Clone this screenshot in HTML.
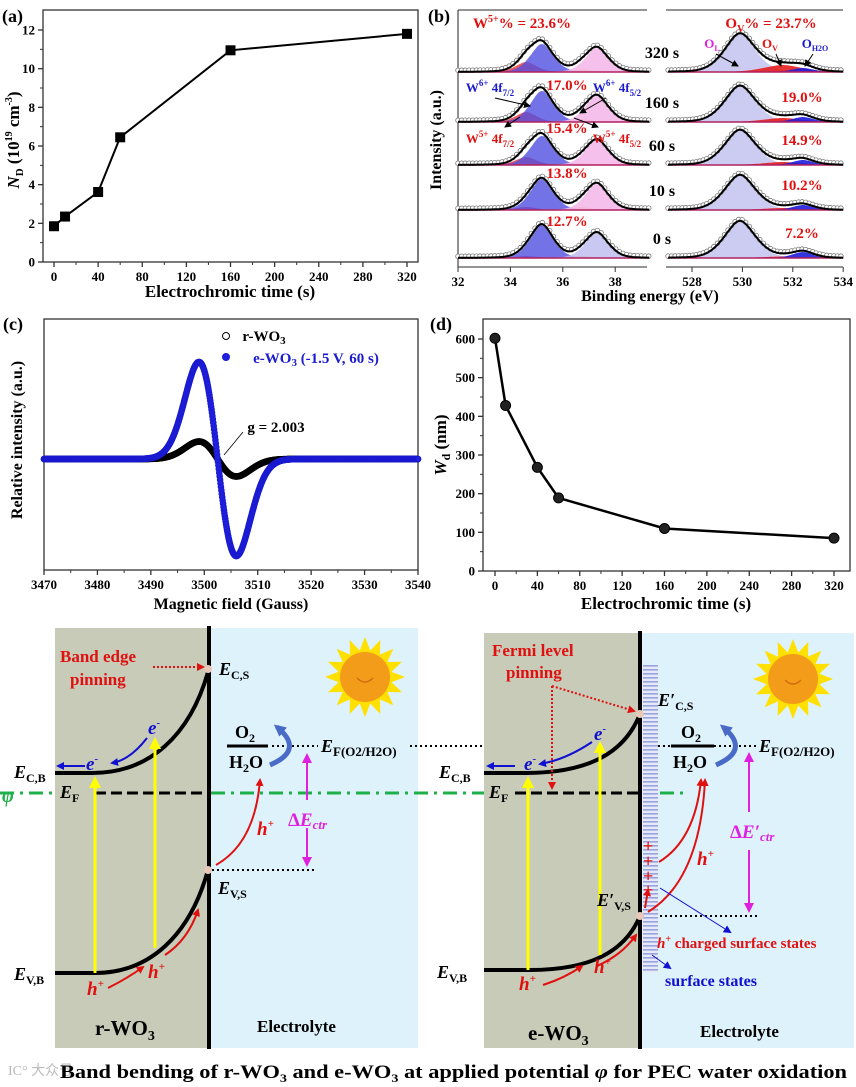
<!DOCTYPE html>
<html><head><meta charset="utf-8"><style>
html,body{margin:0;padding:0;background:#fff;}
svg{display:block;font-family:"Liberation Serif",serif;font-weight:bold;}
</style></head><body>
<svg id="fig" xmlns="http://www.w3.org/2000/svg" width="856" height="1087" viewBox="0 0 856 1087">
<defs>
<marker id="mRed" markerWidth="8" markerHeight="8" refX="6" refY="4" orient="auto" markerUnits="userSpaceOnUse"><path d="M0,0 L8,4 L0,8 z" fill="#e01010"/></marker>
<marker id="mBlue" markerWidth="8" markerHeight="8" refX="6" refY="4" orient="auto" markerUnits="userSpaceOnUse"><path d="M0,0 L8,4 L0,8 z" fill="#1010d0"/></marker>
<marker id="mMag" markerWidth="10" markerHeight="10" refX="8" refY="5" orient="auto" markerUnits="userSpaceOnUse"><path d="M0,0 L10,5 L0,10 z" fill="#e020e0"/></marker>
<marker id="mYel" markerWidth="12" markerHeight="12" refX="9" refY="6" orient="auto" markerUnits="userSpaceOnUse"><path d="M0,0 L12,6 L0,12 z" fill="#ffff00"/></marker>
<marker id="mBlk" markerWidth="7" markerHeight="7" refX="6" refY="3.5" orient="auto" markerUnits="userSpaceOnUse"><path d="M0,0 L7,3.5 L0,7 z" fill="#000"/></marker>
<marker id="mSB" markerWidth="12" markerHeight="12" refX="8" refY="6" orient="auto" markerUnits="userSpaceOnUse"><path d="M0,0 L12,6 L0,12 z" fill="#4a6ac8"/></marker>
<pattern id="ss" width="14" height="4" patternUnits="userSpaceOnUse"><rect width="14" height="4" fill="#e6e9f7"/><rect y="1" width="14" height="1.6" fill="#9aa3dd"/></pattern>
</defs>

<g>
<rect x="55" y="628" width="154" height="420" fill="#c8cbb8"/>
<rect x="210" y="628" width="208" height="420" fill="#ddf2fb"/>
</g>
<g>
<rect x="484" y="633" width="156" height="415" fill="#c8cbb8"/>
<rect x="641" y="633" width="213" height="415" fill="#ddf2fb"/>
<rect x="643" y="665" width="15" height="308" fill="url(#ss)"/>
</g>
<g id="diagram">
<line x1="0" y1="793" x2="55" y2="793" stroke="#1fb04a" stroke-width="3" stroke-dasharray="14,6,3,6"/>
<line x1="211" y1="793" x2="484" y2="793" stroke="#1fb04a" stroke-width="3" stroke-dasharray="14,6,3,6"/>
<line x1="660" y1="793" x2="688" y2="793" stroke="#1fb04a" stroke-width="3" stroke-dasharray="14,6,3,6"/>
<line x1="95" y1="793" x2="208" y2="793" stroke="#000" stroke-width="3" stroke-dasharray="11,5"/>
<line x1="515" y1="793" x2="640" y2="793" stroke="#000" stroke-width="3" stroke-dasharray="11,5"/>
<path d="M55,773 L92,773 C150,773 190,735 208,672" fill="none" stroke="#000" stroke-width="4"/>
<path d="M55,973 L95,973 C150,973 190,935 208,870" fill="none" stroke="#000" stroke-width="4"/>
<path d="M484,773 L525,773 C590,773 625,752 640,714" fill="none" stroke="#000" stroke-width="4"/>
<path d="M484,970 L530,970 C590,970 625,952 640,916" fill="none" stroke="#000" stroke-width="4"/>
<line x1="209" y1="626" x2="209" y2="1049" stroke="#000" stroke-width="4"/>
<line x1="640" y1="631" x2="640" y2="1049" stroke="#000" stroke-width="4"/>
<circle cx="208" cy="669" r="4" fill="#e8c8b8"/>
<circle cx="208" cy="870" r="4" fill="#e8c8b8"/>
<circle cx="640" cy="714" r="4" fill="#e8c8b8"/>
<circle cx="640" cy="916" r="4" fill="#e8c8b8"/>
<line x1="272" y1="746" x2="318" y2="746" stroke="#000" stroke-width="2" stroke-dasharray="2,3"/>
<line x1="410" y1="746" x2="482" y2="746" stroke="#000" stroke-width="2" stroke-dasharray="2,3"/>
<line x1="658" y1="746" x2="671" y2="746" stroke="#000" stroke-width="2" stroke-dasharray="2,3"/>
<line x1="714" y1="746" x2="758" y2="746" stroke="#000" stroke-width="2" stroke-dasharray="2,3"/>
<line x1="212" y1="870" x2="314" y2="870" stroke="#000" stroke-width="2" stroke-dasharray="2,3"/>
<line x1="660" y1="916" x2="757" y2="916" stroke="#000" stroke-width="2" stroke-dasharray="2,3"/>
<line x1="227" y1="746" x2="268" y2="746" stroke="#000" stroke-width="3"/>
<line x1="671" y1="746" x2="714" y2="746" stroke="#000" stroke-width="3"/>
<line x1="95" y1="973" x2="95" y2="779" stroke="#ffff00" stroke-width="3" marker-end="url(#mYel)"/>
<line x1="155" y1="948" x2="155" y2="740" stroke="#ffff00" stroke-width="3" marker-end="url(#mYel)"/>
<line x1="528" y1="970" x2="528" y2="779" stroke="#ffff00" stroke-width="3" marker-end="url(#mYel)"/>
<line x1="600" y1="955" x2="600" y2="744" stroke="#ffff00" stroke-width="3" marker-end="url(#mYel)"/>
<path d="M147,738 Q130,760 112,763" fill="none" stroke="#1010d0" stroke-width="2" marker-end="url(#mBlue)"/>
<path d="M85,766 L58,766" fill="none" stroke="#1010d0" stroke-width="2" marker-end="url(#mBlue)"/>
<path d="M592,742 Q565,760 540,764" fill="none" stroke="#1010d0" stroke-width="2" marker-end="url(#mBlue)"/>
<path d="M515,766 L488,766" fill="none" stroke="#1010d0" stroke-width="2" marker-end="url(#mBlue)"/>
<path d="M108,988 Q128,978 143,967" fill="none" stroke="#e01010" stroke-width="2" marker-end="url(#mRed)"/>
<path d="M165,955 Q188,940 198,910" fill="none" stroke="#e01010" stroke-width="2" marker-end="url(#mRed)"/>
<path d="M216,865 Q255,843 260,780" fill="none" stroke="#e01010" stroke-width="2" marker-end="url(#mRed)"/>
<path d="M543,985 Q565,978 582,966" fill="none" stroke="#e01010" stroke-width="2" marker-end="url(#mRed)"/>
<path d="M597,966 Q622,955 636,935" fill="none" stroke="#e01010" stroke-width="2" marker-end="url(#mRed)"/>
<path d="M645,908 L648,890" fill="none" stroke="#e01010" stroke-width="2" marker-end="url(#mRed)"/>
<path d="M659,862 Q695,840 701,780" fill="none" stroke="#e01010" stroke-width="2" marker-end="url(#mRed)"/>
<path d="M648,912 Q700,880 705,780" fill="none" stroke="#e01010" stroke-width="2" marker-end="url(#mRed)"/>
<path d="M270,765 Q305,750 277,727" fill="none" stroke="#4a6ac8" stroke-width="5" marker-end="url(#mSB)"/>
<path d="M716,765 Q751,750 723,727" fill="none" stroke="#4a6ac8" stroke-width="5" marker-end="url(#mSB)"/>
<line x1="307" y1="800" x2="307" y2="755" stroke="#e020e0" stroke-width="2" marker-end="url(#mMag)"/>
<line x1="307" y1="828" x2="307" y2="865" stroke="#e020e0" stroke-width="2" marker-end="url(#mMag)"/>
<line x1="749" y1="812" x2="749" y2="754" stroke="#e020e0" stroke-width="2" marker-end="url(#mMag)"/>
<line x1="749" y1="850" x2="749" y2="911" stroke="#e020e0" stroke-width="2" marker-end="url(#mMag)"/>
<line x1="153" y1="667" x2="203" y2="667" stroke="#e01010" stroke-width="2" stroke-dasharray="2,2" marker-end="url(#mRed)"/>
<line x1="552" y1="686" x2="634" y2="711" stroke="#e01010" stroke-width="2" stroke-dasharray="2,2" marker-end="url(#mRed)"/>
<line x1="552" y1="686" x2="552" y2="788" stroke="#e01010" stroke-width="2" stroke-dasharray="2,2" marker-end="url(#mRed)"/>
<line x1="660" y1="888" x2="730" y2="932" stroke="#1010d0" stroke-width="1" marker-end="url(#mBlue)"/>
<line x1="652" y1="955" x2="670" y2="968" stroke="#1010d0" stroke-width="1" marker-end="url(#mBlue)"/>
<g fill="#e01010" font-size="18">
<text x="643" y="852">+</text><text x="643" y="867">+</text><text x="643" y="882">+</text><text x="643" y="896">+</text>
</g>
</g>
<g font-size="18">
<text x="60" y="662" fill="#e01010" font-size="17">Band edge</text>
<text x="70" y="685" fill="#e01010" font-size="17">pinning</text>
<text x="219" y="675" font-style="italic">E<tspan font-size="12" font-style="normal" dy="4">C,S</tspan></text>
<text x="14" y="778" font-style="italic">E<tspan font-size="12" font-style="normal" dy="4">C,B</tspan></text>
<text x="60" y="798" font-style="italic">E<tspan font-size="12" font-style="normal" dy="4">F</tspan></text>
<text x="2" y="802" fill="#1fb04a" font-style="italic" font-size="20">φ</text>
<text x="14" y="980" font-style="italic">E<tspan font-size="12" font-style="normal" dy="4">V,B</tspan></text>
<text x="218" y="894" font-style="italic">E<tspan font-size="12" font-style="normal" dy="4">V,S</tspan></text>
<text x="86" y="770" fill="#1010d0" font-style="italic" font-size="19">e<tspan font-size="11" dy="-8">-</tspan></text>
<text x="148" y="734" fill="#1010d0" font-style="italic" font-size="19">e<tspan font-size="11" dy="-8">-</tspan></text>
<text x="87" y="995" fill="#e01010" font-style="italic" font-size="19">h<tspan font-size="11" dy="-8">+</tspan></text>
<text x="148" y="978" fill="#e01010" font-style="italic" font-size="19">h<tspan font-size="11" dy="-8">+</tspan></text>
<text x="257" y="835" fill="#e01010" font-style="italic" font-size="19">h<tspan font-size="11" dy="-8">+</tspan></text>
<text x="235" y="738" font-size="18">O<tspan font-size="12" dy="4">2</tspan></text>
<text x="229" y="768" font-size="18">H<tspan font-size="12" dy="4">2</tspan><tspan dy="-4">O</tspan></text>
<text x="321" y="752" font-style="italic">E<tspan font-size="13" font-style="normal" dy="4">F(O2/H2O)</tspan></text>
<text x="288" y="826" fill="#e020e0" font-size="19">Δ<tspan font-style="italic">E</tspan><tspan font-style="italic" font-size="13" dy="3">ctr</tspan></text>
<text x="95" y="1035" font-size="21">r-WO<tspan font-size="14" dy="5">3</tspan></text>
<text x="257" y="1032" font-size="17">Electrolyte</text>

<text x="492" y="656" fill="#e01010" font-size="17">Fermi level</text>
<text x="506" y="678" fill="#e01010" font-size="17">pinning</text>
<text x="658" y="706" font-style="italic">E′<tspan font-size="12" font-style="normal" dy="4">C,S</tspan></text>
<text x="439" y="778" font-style="italic">E<tspan font-size="12" font-style="normal" dy="4">C,B</tspan></text>
<text x="489" y="798" font-style="italic">E<tspan font-size="12" font-style="normal" dy="4">F</tspan></text>
<text x="437" y="978" font-style="italic">E<tspan font-size="12" font-style="normal" dy="4">V,B</tspan></text>
<text x="597" y="906" font-style="italic">E′<tspan font-size="12" font-style="normal" dy="4">V,S</tspan></text>
<text x="524" y="770" fill="#1010d0" font-style="italic" font-size="19">e<tspan font-size="11" dy="-8">-</tspan></text>
<text x="594" y="740" fill="#1010d0" font-style="italic" font-size="19">e<tspan font-size="11" dy="-8">-</tspan></text>
<text x="519" y="990" fill="#e01010" font-style="italic" font-size="19">h<tspan font-size="11" dy="-8">+</tspan></text>
<text x="594" y="973" fill="#e01010" font-style="italic" font-size="19">h<tspan font-size="11" dy="-8">+</tspan></text>
<text x="697" y="865" fill="#e01010" font-style="italic" font-size="19">h<tspan font-size="11" dy="-8">+</tspan></text>
<text x="681" y="738" font-size="18">O<tspan font-size="12" dy="4">2</tspan></text>
<text x="673" y="768" font-size="18">H<tspan font-size="12" dy="4">2</tspan><tspan dy="-4">O</tspan></text>
<text x="759" y="752" font-style="italic">E<tspan font-size="13" font-style="normal" dy="4">F(O2/H2O)</tspan></text>
<text x="730" y="838" fill="#e020e0" font-size="19">Δ<tspan font-style="italic">E′</tspan><tspan font-style="italic" font-size="13" dy="3">ctr</tspan></text>
<text x="657" y="948" fill="#e01010" font-size="15"><tspan font-style="italic">h</tspan><tspan font-size="10" dy="-6">+</tspan><tspan dy="6"> charged surface states</tspan></text>
<text x="665" y="986" fill="#1010d0" font-size="16">surface states</text>
<text x="528" y="1040" font-size="21">e-WO<tspan font-size="14" dy="5">3</tspan></text>
<text x="700" y="1037" font-size="17">Electrolyte</text>
<text x="8" y="1075" fill="#bbb" font-size="14" font-weight="normal">IC° 大众号</text>
<text x="60" y="1078" font-size="19" textLength="787" lengthAdjust="spacingAndGlyphs">Band bending of r-WO<tspan font-size="12" dy="4">3</tspan><tspan dy="-4"> and e-WO</tspan><tspan font-size="12" dy="4">3</tspan><tspan dy="-4"> at applied potential </tspan><tspan font-style="italic">φ</tspan><tspan>  for PEC water oxidation</tspan></text>
</g>

<text x="2" y="22" font-size="18">(a)</text>
<text x="428" y="22" font-size="18">(b)</text>
<text x="3" y="330" font-size="18">(c)</text>
<text x="430" y="330" font-size="18">(d)</text>
</svg>
<script>
const NS='http://www.w3.org/2000/svg';
const svg=document.getElementById('fig');
function mk(tag,attrs,parent){const e=document.createElementNS(NS,tag);for(const k in attrs)e.setAttribute(k,attrs[k]);(parent||svg).appendChild(e);return e;}

const aTimes=[0,10,40,60,160,320];
const aND=[1.85,2.35,3.62,6.45,10.95,11.8];
const aXTicks=[0,40,80,120,160,200,240,280,320];
const aYTicks=[0,2,4,6,8,10,12];
const dTimes=[0,10,40,60,160,320];
const dWd=[602,428,268,189,110,85];
const dXTicks=[0,40,80,120,160,200,240,280,320];
const dYTicks=[0,100,200,300,400,500,600];
const cXTicks=[3470,3480,3490,3500,3510,3520,3530,3540];
const cCenters=[3502.5,3502.5];
const cWidths=[3.5,3.5];
const cAmps=[0.18,1.0];
const bLabels=['320 s','160 s','60 s','10 s','0 s'];
const bOffsets=[190,140,97,52,4];
const bW6a=[28,31,29,31,33];
const bW6b=[24,26,25,26,25];
const bW5a=[10,10,8,3,2];
const bW5b=[3,3,2,3,2];
const bOL=[38,36,35,35,37];
const bOV=[7,4,3,2,1.5];
const bOH=[4,5,5,5,6];
const bW5pct=['','17.0%','15.4%','13.8%','12.7%'];
const bOVpct=['','19.0%','14.9%','10.2%','7.2%'];
const bXTicksL=[32,34,36,38];
const bXTicksR=[528,530,532,534];

function axes(name,x0,y0,x1,y1,xs,ys,xt,yt,xminor,yminor){
  const g=mk('g',{});
  
  
  const r=mk('rect',{x:x0,y:y0,width:x1-x0,height:y1-y0,fill:'none',stroke:'#333','stroke-width':1.3},g);
  
  
  xt.forEach(v=>{const X=xs(v);
    const t=mk('line',{x1:X,y1:y1,x2:X,y2:y1+5,stroke:'#333','stroke-width':1.3},g);
    
    
    const l=mk('text',{x:X,y:y1+19,'text-anchor':'middle','font-size':13},g);l.textContent=v;
    
    });
  xminor.forEach(v=>{const X=xs(v);const t=mk('line',{x1:X,y1:y1,x2:X,y2:y1+3,stroke:'#333'},g);
    
    });
  if(ys){yt.forEach(v=>{const Y=ys(v);
    const t=mk('line',{x1:x0-5,y1:Y,x2:x0,y2:Y,stroke:'#333','stroke-width':1.3},g);
    
    
    const l=mk('text',{x:x0-8,y:Y+4.5,'text-anchor':'end','font-size':13},g);l.textContent=v;
    
    });
  yminor.forEach(v=>{const Y=ys(v);const t=mk('line',{x1:x0-3,y1:Y,x2:x0,y2:Y,stroke:'#333'},g);
    
    });}
  return g;
}
function title(txt,x,y,rot,name,size){const t=mk('text',{x:x,y:y,'text-anchor':'middle','font-size':size||16});
  if(rot)t.setAttribute('transform','rotate(-90 '+x+' '+y+')');
  t.innerHTML=txt;
  
  return t;}

const ax=v=>54+v*(407-54)/320, ay=v=>262-v*(262-30)/12;
axes('panel-a',43,10,418,262,ax,ay,aXTicks,aYTicks,[20,60,100,140,180,220,260,300],[1,3,5,7,9,11]);
const aPts=aTimes.map((t,i)=>ax(t)+','+ay(aND[i])).join(' ');
const aLine=mk('polyline',{points:aPts,fill:'none',stroke:'#000','stroke-width':2});


aTimes.forEach((t,i)=>{const s=mk('rect',{x:ax(t)-5,y:ay(aND[i])-5,width:10,height:10,fill:'#000'});
  
  });
title('Electrochromic time (s)',230,297,false,'panel-a-x-title',17);
title('<tspan font-style="italic">N</tspan><tspan font-size="11" dy="4">D</tspan><tspan dy="-4"> (10</tspan><tspan font-size="10" dy="-7">19</tspan><tspan dy="7"> cm</tspan><tspan font-size="10" dy="-7">-3</tspan><tspan dy="7">)</tspan>',19,140,true,'panel-a-y-title',17);

const dx=v=>495+v*(834-495)/320, dy=v=>571-v*(571-339)/600;
axes('panel-d',483,319,850,571,dx,dy,dXTicks,dYTicks,[20,60,100,140,180,220,260,300],[50,150,250,350,450,550]);
const dPts=dTimes.map((t,i)=>dx(t)+','+dy(dWd[i])).join(' ');
const dLine=mk('polyline',{points:dPts,fill:'none',stroke:'#000','stroke-width':2.5});


dTimes.forEach((t,i)=>{const c=mk('circle',{cx:dx(t),cy:dy(dWd[i]),r:5,fill:'#222',stroke:'#000'});
  
  });
title('Electrochromic time (s)',666,609,false,'panel-d-x-title',17);
title('<tspan font-style="italic">W</tspan><tspan font-size="12" dy="4">d</tspan><tspan dy="-4"> (nm)</tspan>',446,445,true,'panel-d-y-title',17);

const cx=v=>44+(v-3470)*(418-44)/70, cy=v=>459-v*97;
axes('panel-c',44,319,418,570,cx,null,cXTicks,[],[3475,3485,3495,3505,3515,3525,3535],[]);
const cColors=[['#fff','#000'],['#2020e0','#1a1ad0']];
const cNames=['r-wo3-epr','e-wo3-epr'];
for(let s=0;s<2;s++){const g=mk('g',{});
  
  
  for(let B=3470;B<=3540.001;B+=0.08){const u=(B-cCenters[s])/cWidths[s];
    const v=cAmps[s]*(-u)*Math.exp(0.5-u*u/2);
    const c=mk('circle',{cx:cx(B),cy:cy(v),r:2.8,fill:cColors[s][0],stroke:cColors[s][1],'stroke-width':1},g);
    
    }}
title('Magnetic field  (Gauss)',231,609,false,'panel-c-x-title',16);
title('Relative intensity (a.u.)',22,440,true,'panel-c-y-title',16);
const lg1=mk('circle',{cx:226,cy:336,r:3.5,fill:'#fff',stroke:'#000'});


const lg2=mk('circle',{cx:226,cy:357,r:3.5,fill:'#2020e0',stroke:'#1a1ad0'});


title('r-WO<tspan font-size="11" dy="3">3</tspan>',264,341,false,'legend-r-wo3',15);
const lt=title('e-WO<tspan font-size="11" dy="3">3</tspan><tspan dy="-3">  (-1.5 V, 60 s)</tspan>',316,363,false,'legend-e-wo3',15);lt.setAttribute('fill','#1a1ad0');
title('g = 2.003',276,432,false,'g-value-label',15);
const gl=mk('line',{x1:243,y1:432,x2:224,y2:455,stroke:'#000','stroke-width':0.8});



const bxL=e=>458+(e-32)*26.2, bxR=e=>692+(e-528)*25.2, by=v=>262-v;
function pk(e,c,s,a){const d=(e-c)/s;return a*(0.7*Math.exp(-d*d/2)+0.3/(1+d*d*1.386));}
const bFrameA=mk('path',{d:'M458,10 L647,10 M458,10 L458,267 L647,267 M666,10 L843,10 M666,267 L843,267',fill:'none',stroke:'#555','stroke-width':1.3});


bXTicksL.forEach(v=>{const t=mk('line',{x1:bxL(v),y1:267,x2:bxL(v),y2:272,stroke:'#333'});
  
  
  const l=mk('text',{x:bxL(v),y:286,'text-anchor':'middle','font-size':13});l.textContent=v;
  
  });
bXTicksR.forEach(v=>{const t=mk('line',{x1:bxR(v),y1:267,x2:bxR(v),y2:272,stroke:'#333'});
  
  
  const l=mk('text',{x:bxR(v),y:286,'text-anchor':'middle','font-size':13});l.textContent=v;
  
  });
function fillComp(xf,e0,e1,base,fn,color,name){let d='M'+xf(e0)+','+by(base);
  for(let e=e0;e<=e1+1e-9;e+=0.05)d+=' L'+xf(e).toFixed(1)+','+by(base+fn(e)).toFixed(1);
  d+=' L'+xf(e1)+','+by(base)+' Z';
  const p=mk('path',{d:d,fill:color,stroke:'none'});
  
  }
function envelope(xf,e0,e1,base,fn,name){let d='';const g=mk('g',{});
  
  
  for(let e=e0;e<=e1+1e-9;e+=0.05)d+=(d?' L':'M')+xf(e).toFixed(1)+','+by(base+fn(e)).toFixed(1);
  for(let e=e0;e<=e1+1e-9;e+=0.14){const c=mk('circle',{cx:xf(e),cy:by(base+fn(e)+1.5),r:2.3,fill:'#fff',stroke:'#777','stroke-width':0.8},g);
    
    }
  const bl=mk('line',{x1:xf(e0),y1:by(base),x2:xf(e1),y2:by(base),stroke:'#b02060','stroke-width':1.5},g);
  
  
  const p=mk('path',{d:d,fill:'none',stroke:'#000','stroke-width':2},g);
  
  }
for(let i=0;i<5;i++){const b=bOffsets[i];
  const fR=e=>pk(e,34.6,0.42,bW5a[i]), fO=e=>pk(e,36.7,0.42,bW5b[i]),
        fB=e=>pk(e,35.2,0.47,bW6a[i]), fP=e=>pk(e,37.3,0.47,bW6b[i]);
  fillComp(bxL,32,39.3,b,fR,'rgba(235,60,60,0.85)','w5-4f72-component');
  fillComp(bxL,32,39.3,b,fO,'rgba(245,180,60,0.9)','w5-4f52-component');
  fillComp(bxL,32,39.3,b,fB,'rgba(80,80,225,0.8)','w6-4f72-component');
  fillComp(bxL,32,39.3,b,fP,i==4?'rgba(190,190,240,0.85)':'rgba(245,185,235,0.9)','w6-4f52-component');
  envelope(bxL,32,39.3,b,e=>fR(e)+fO(e)+fB(e)+fP(e),'w4f-envelope');
  const fL=e=>pk(e,529.9,0.65,bOL[i]), fV=e=>pk(e,531.6,0.8,bOV[i]), fH=e=>pk(e,532.4,0.45,bOH[i]);
  fillComp(bxR,527.05,534,b,fL,'rgba(195,195,240,0.85)','ol-component');
  fillComp(bxR,527.05,534,b,fV,'rgba(230,30,30,0.9)','ov-component');
  fillComp(bxR,527.05,534,b,fH,'rgba(30,30,220,0.9)','oh2o-component');
  envelope(bxR,527.05,534,b,e=>fL(e)+fV(e)+fH(e),'o1s-envelope');
  const tl=mk('text',{x:662,y:by(b)-14,'text-anchor':'middle','font-size':16});tl.textContent=bLabels[i];
  
  
  if(bW5pct[i]){const p=mk('text',{x:567,y:by(b)-32,'text-anchor':'middle','font-size':15,fill:'#e01010'});p.textContent=bW5pct[i];
    
    
    const q=mk('text',{x:802,y:by(b)-20,'text-anchor':'middle','font-size':15,fill:'#e01010'});q.textContent=bOVpct[i];
    
    }
}
title('Binding energy (eV)',650,301,false,'panel-b-x-title',16);
title('Intensity (a.u.)',441,140,true,'panel-b-y-title',16);
const bt1=title('W<tspan font-size="10" dy="-6">5+</tspan><tspan dy="6">% = 23.6%</tspan>',522,28,false,'w5-total-label',15);bt1.setAttribute('fill','#e01010');
const bt2=title('O<tspan font-size="10" dy="4">V</tspan><tspan dy="-4">% = 23.7%</tspan>',771,28,false,'ov-total-label',15);bt2.setAttribute('fill','#e01010');
const an=[['W<tspan font-size="9" dy="-6">6+</tspan><tspan dy="6"> 4f</tspan><tspan font-size="9" dy="4">7/2</tspan>',490,92,'#1a1ad0','w6-4f72-annotation'],
 ['W<tspan font-size="9" dy="-6">6+</tspan><tspan dy="6"> 4f</tspan><tspan font-size="9" dy="4">5/2</tspan>',617,92,'#1a1ad0','w6-4f52-annotation'],
 ['W<tspan font-size="9" dy="-6">5+</tspan><tspan dy="6"> 4f</tspan><tspan font-size="9" dy="4">7/2</tspan>',490,143,'#e01010','w5-4f72-annotation'],
 ['W<tspan font-size="9" dy="-6">5+</tspan><tspan dy="6"> 4f</tspan><tspan font-size="9" dy="4">5/2</tspan>',617,143,'#e01010','w5-4f52-annotation'],
 ['O<tspan font-size="8" dy="3">L</tspan>',712,48,'#e020e0','ol-annotation'],
 ['O<tspan font-size="8" dy="3">V</tspan>',770,48,'#e01010','ov-annotation'],
 ['O<tspan font-size="8" dy="3">H2O</tspan>',815,48,'#1a1ad0','oh2o-annotation']];
an.forEach(a=>{const t=title(a[0],a[1],a[2],false,a[4],13);t.setAttribute('fill',a[3]);});
const arrs=[[495,98,530,106],[606,98,580,113],[520,117,505,127],[574,118,598,127],[716,54,738,66],[776,54,781,66],[813,54,805,66]];
arrs.forEach(a=>{const l=mk('line',{x1:a[0],y1:a[1],x2:a[2],y2:a[3],stroke:'#000','stroke-width':1,'marker-end':'url(#mBlk)'});
  
  });

[[365,677],[793,679]].forEach(c=>{let pts=[];for(let k=0;k<32;k++){const a=k*Math.PI/16,r=k%2?27:40;pts.push((c[0]+r*Math.cos(a)).toFixed(1)+','+(c[1]+r*Math.sin(a)).toFixed(1));}
  const p=mk('polygon',{points:pts.join(' '),fill:'#ffe000'});
  
  
  const o=mk('circle',{cx:c[0],cy:c[1],r:25,fill:'#f39c1a'});
  
  
  const sm=mk('path',{d:'M'+(c[0]-8)+','+(c[1]+1)+' Q'+c[0]+','+(c[1]+9)+' '+(c[0]+8)+','+(c[1]+1),fill:'none',stroke:'#d06a10','stroke-width':1.3});
  
  });
</script>
</body></html>
